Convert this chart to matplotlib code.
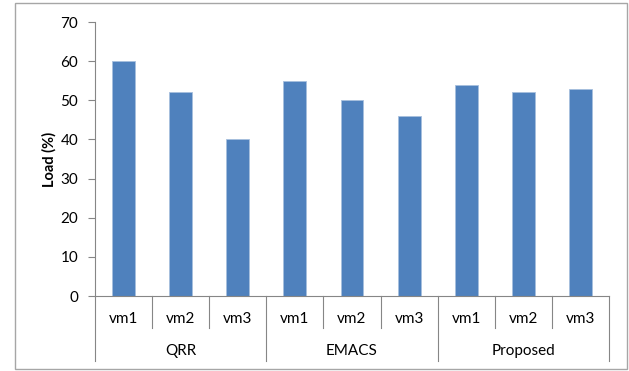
import numpy as np
import matplotlib.pyplot as plt
from matplotlib.patches import Rectangle
import matplotlib.transforms as mtransforms

plt.rcParams['font.family'] = ['Lato', 'DejaVu Sans']

# Data
groups = ['QRR', 'EMACS', 'Proposed']
vms = ['vm1', 'vm2', 'vm3']
loads = [60, 52, 40, 55, 50, 46, 54, 52, 53]
yticks = [0, 10, 20, 30, 40, 50, 60, 70]

W, H = 629, 371
fig = plt.figure(figsize=(W / 100, H / 100), dpi=100)

# outer chart frame
fig.patches.append(Rectangle((15 / W, 1 - 369 / H), 612 / W, 366 / H,
                             transform=fig.transFigure, fill=False,
                             edgecolor='#a6a6a6', linewidth=1))

ax = fig.add_axes([95 / W, 1 - 296 / H, 514 / W, 274 / H])
x = np.arange(len(loads))
ax.bar(x, loads, width=0.4, color='#4f81bd', edgecolor='#a7bfde', linewidth=0.6, zorder=2)

ax.set_xlim(-0.5, len(loads) - 0.5)
ax.set_ylim(0, 70)
ax.set_yticks(yticks)
ax.tick_params(axis='y', length=5, color='#868686', labelsize=11, pad=7)
ax.set_xticks([])
for s in ['top', 'right']:
    ax.spines[s].set_visible(False)
for s in ['left', 'bottom']:
    ax.spines[s].set_color('#868686')
ax.set_ylabel('Load (%)', fontsize=10.5, fontweight='bold', labelpad=3)

# two-level category axis
trans = mtransforms.blended_transform_factory(ax.transData, ax.transAxes)
inner_bottom = -32 / 274
outer_bottom = -65 / 274
for i in range(len(loads) + 1):
    pos = i - 0.5
    low = outer_bottom if i % 3 == 0 else inner_bottom
    ax.plot([pos, pos], [0, low], transform=trans, color='#868686',
            linewidth=0.8, clip_on=False)
for i in range(len(loads)):
    ax.text(i, -23 / 274, vms[i % 3], transform=trans, ha='center',
            va='center', fontsize=11)
for g, name in enumerate(groups):
    ax.text(g * 3 + 1, -55 / 274, name, transform=trans, ha='center',
            va='center', fontsize=11)

fig.savefig('out.png', dpi=100)
